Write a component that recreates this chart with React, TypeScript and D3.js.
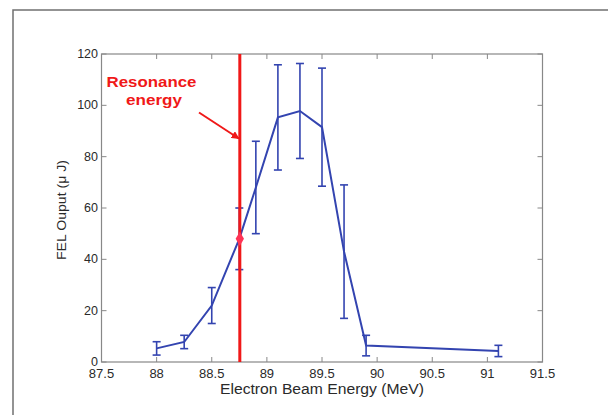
import React from "react";
import * as d3 from "d3";

// Beam energy (MeV), FEL output (µJ) and error half-widths
const energies = [88.0, 88.25, 88.5, 88.75, 88.9, 89.1, 89.3, 89.5, 89.7, 89.9, 91.1];
const outputs = [5.3, 7.8, 22, 48, 68, 95.3, 97.8, 91.5, 43, 6.4, 4.3];
const errors = [2.6, 2.6, 7, 12, 18, 20.5, 18.5, 23, 26, 4, 2.2];

const xTicks = [87.5, 88, 88.5, 89, 89.5, 90, 90.5, 91, 91.5];
const yTicks = [0, 20, 40, 60, 80, 100, 120];
const resonanceEnergy = 88.75;
const resonanceOutput = 48;

const W = 608;
const H = 415;
const M = { left: 101.5, right: 542.5, top: 54, bottom: 362 };

export default function App() {
  const x = d3.scaleLinear().domain([87.5, 91.5]).range([M.left, M.right]);
  const y = d3.scaleLinear().domain([0, 120]).range([M.bottom, M.top]);

  const line = d3
    .line<number>()
    .x((_, i) => x(energies[i]))
    .y((d) => y(d));

  const blue = "#3344b0";
  const red = "#f01818";
  const axisColor = "#888";
  const textColor = "#2a2a2a";
  const font = "Liberation Sans, Arial, sans-serif";
  const tickLen = 5;
  const capW = 4;

  return (
    <svg
      width={W}
      height={H}
      style={{ position: "absolute", left: 0, top: 0, background: "#fff" }}
      fontFamily={font}
    >
      <defs>
        <marker
          id="arrowHead"
          viewBox="0 0 10 10"
          refX="9"
          refY="5"
          markerWidth="4"
          markerHeight="4"
          orient="auto"
        >
          <path d="M0,0 L10,5 L0,10 z" fill={red} />
        </marker>
      </defs>

      {/* outer frame */}
      <path d={`M13,${H} L13,10 L${W},10`} fill="none" stroke="#707070" strokeWidth={1.5} />

      {/* axes box */}
      <rect
        x={M.left}
        y={M.top}
        width={M.right - M.left}
        height={M.bottom - M.top}
        fill="none"
        stroke={axisColor}
        strokeWidth={1.2}
      />

      {/* x ticks (inward, top and bottom) and labels */}
      {xTicks.map((t) => (
        <g key={`x${t}`}>
          <line x1={x(t)} x2={x(t)} y1={M.bottom} y2={M.bottom - tickLen} stroke={axisColor} />
          <line x1={x(t)} x2={x(t)} y1={M.top} y2={M.top + tickLen} stroke={axisColor} />
          <text x={x(t)} y={378} textAnchor="middle" fontSize={13} fill={textColor}>
            {t}
          </text>
        </g>
      ))}

      {/* y ticks (inward, left and right) and labels */}
      {yTicks.map((t) => (
        <g key={`y${t}`}>
          <line x1={M.left} x2={M.left + tickLen} y1={y(t)} y2={y(t)} stroke={axisColor} />
          <line x1={M.right} x2={M.right - tickLen} y1={y(t)} y2={y(t)} stroke={axisColor} />
          <text x={98} y={y(t) + 4} textAnchor="end" fontSize={12.5} fill={textColor}>
            {t}
          </text>
        </g>
      ))}

      {/* axis titles */}
      <text
        x={322}
        y={394}
        textAnchor="middle"
        fontSize={14}
        fill={textColor}
        textLength={204}
        lengthAdjust="spacingAndGlyphs"
      >
        Electron Beam Energy (MeV)
      </text>
      <text
        transform={`translate(66,210) rotate(-90)`}
        textAnchor="middle"
        fontSize={13}
        fill={textColor}
        textLength={100}
        lengthAdjust="spacingAndGlyphs"
      >
        FEL Ouput (μ J)
      </text>

      {/* error bars */}
      {energies.map((e, i) => {
        const cx = x(e);
        const top = y(outputs[i] + errors[i]);
        const bot = y(outputs[i] - errors[i]);
        return (
          <g key={`err${i}`} stroke={blue} strokeWidth={1.6}>
            <line x1={cx} x2={cx} y1={top} y2={bot} />
            <line x1={cx - capW} x2={cx + capW} y1={top} y2={top} />
            <line x1={cx - capW} x2={cx + capW} y1={bot} y2={bot} />
          </g>
        );
      })}

      {/* output curve */}
      <path d={line(outputs) || ""} fill="none" stroke={blue} strokeWidth={2} />

      {/* resonance line */}
      <line
        x1={x(resonanceEnergy) + 0.5}
        x2={x(resonanceEnergy) + 0.5}
        y1={M.top}
        y2={M.bottom}
        stroke={red}
        strokeWidth={3}
      />

      {/* resonance point */}
      <path
        d={d3.symbol(d3.symbolDiamond, 60)() || ""}
        transform={`translate(${x(resonanceEnergy) + 0.5},${y(resonanceOutput)})`}
        fill="#ff3355"
      />

      {/* annotation */}
      <text
        x={151.5}
        y={87}
        textAnchor="middle"
        fontSize={15.5}
        fontWeight="bold"
        fill={red}
        textLength={90}
        lengthAdjust="spacingAndGlyphs"
      >
        Resonance
      </text>
      <text
        x={154}
        y={105}
        textAnchor="middle"
        fontSize={15.5}
        fontWeight="bold"
        fill={red}
        textLength={56}
        lengthAdjust="spacingAndGlyphs"
      >
        energy
      </text>
      <line
        x1={199}
        y1={112.5}
        x2={x(resonanceEnergy) - 0.5}
        y2={138.5}
        stroke={red}
        strokeWidth={2}
        markerEnd="url(#arrowHead)"
      />
    </svg>
  );
}
